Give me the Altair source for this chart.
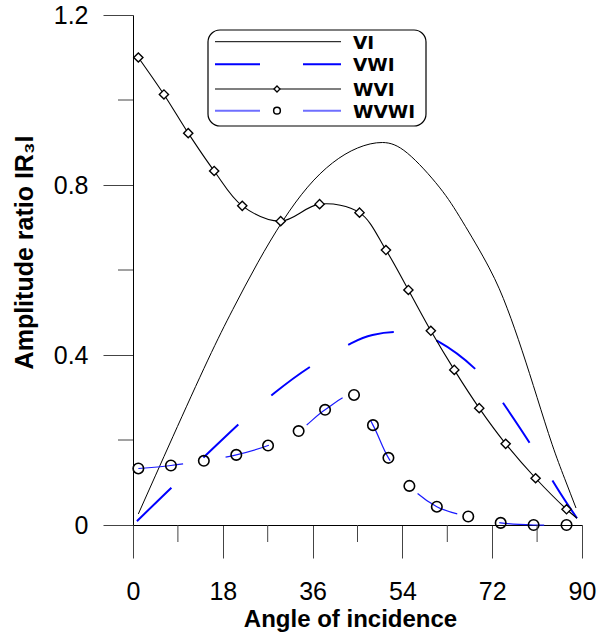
import altair as alt
import pandas as pd

series_names = ["VI", "VWI", "WVI", "WVWI"]

# VI: thin solid black curve
vi_angle = [1.07, 8.0, 15.0, 20.0, 25.0, 30.0, 35.0, 40.0, 45.0, 50.0, 55.0, 61.4, 66.0, 71.4, 75.0, 78.0, 81.0, 84.0, 86.5, 88.8]
vi_value = [0.026, 0.208, 0.388, 0.507, 0.617, 0.715, 0.795, 0.852, 0.887, 0.900, 0.875, 0.795, 0.715, 0.605, 0.510, 0.410, 0.300, 0.190, 0.110, 0.040]

# VWI: long-dashed blue curve
vwi_angle = [0.8, 7.8, 14.4, 21.6, 28.4, 36.0, 43.8, 48.0, 52.8, 57.0, 61.0, 68.8, 74.6, 80.0, 85.0, 89.0]
vwi_value = [0.009, 0.089, 0.162, 0.242, 0.311, 0.376, 0.428, 0.447, 0.454, 0.448, 0.433, 0.365, 0.280, 0.184, 0.087, 0.016]

# WVI: solid black curve with diamond markers
wvi_angle = [1.07, 6.2, 11.07, 16.27, 21.9, 29.6, 37.4, 45.4, 50.7, 55.2, 59.7, 64.4, 69.4, 74.7, 80.7, 86.9]
wvi_value = [1.100, 1.013, 0.922, 0.833, 0.751, 0.715, 0.755, 0.735, 0.647, 0.553, 0.457, 0.365, 0.275, 0.191, 0.110, 0.037]
wvi_tail_angle = [89.0]
wvi_tail_value = [0.016]

# WVWI: thin dashed blue curve with circle markers
wvwi_angle = [1.07, 7.6, 14.2, 20.7, 27.07, 33.2, 38.5, 44.3, 48.1, 51.2, 55.4, 60.9, 67.2, 73.7, 80.3, 86.9]
wvwi_value = [0.133, 0.140, 0.151, 0.165, 0.187, 0.221, 0.271, 0.306, 0.235, 0.158, 0.092, 0.043, 0.020, 0.005, 0.0, 0.0]

x_major = [0, 18, 36, 54, 72, 90]
x_minor = [9, 27, 45, 63, 81]
y_major = [0, 0.4, 0.8, 1.2]
y_minor = [0.2, 0.6, 1.0]

FONT = "Liberation Sans"

x_scale = alt.Scale(domain=[0, 90], nice=False, zero=False)
y_scale = alt.Scale(domain=[0, 1.2], nice=False, zero=False)

x_axis = alt.Axis(
    values=x_major, format="d", grid=False,
    tickSize=33, tickColor="#444", tickWidth=1,
    domainColor="#000", domainWidth=1,
    labelFont=FONT, labelFontSize=25, labelColor="#000", labelPadding=21,
    labelFlush=False, labelOverlap=False,
    title="Angle of incidence", titleFont=FONT, titleFontSize=24, titleFontWeight="bold",
    titleColor="#000", titleX=217, titleY=101, titleBaseline="alphabetic", titleAlign="center",
)
y_axis = alt.Axis(
    values=y_major, format=".1~f", grid=False,
    tickSize=30, tickColor="#444", tickWidth=1,
    domainColor="#000", domainWidth=1,
    labelFont=FONT, labelFontSize=25, labelColor="#000", labelPadding=15,
    labelFlush=False, labelOverlap=False,
    title="Amplitude ratio IR\u2083I", titleFont=FONT, titleFontSize=25, titleFontWeight="bold",
    titleColor="#000", titleAngle=270, titleX=-101, titleY=237,
    titleBaseline="alphabetic", titleAlign="center",
)

vi_df = pd.DataFrame({"angle": vi_angle, "value": vi_value})
vwi_df = pd.DataFrame({"angle": vwi_angle, "value": vwi_value})
wvi_pts = pd.DataFrame({"angle": wvi_angle, "value": wvi_value})
wvi_line_df = pd.DataFrame({"angle": wvi_angle + wvi_tail_angle, "value": wvi_value + wvi_tail_value})
wvwi_df = pd.DataFrame({"angle": wvwi_angle, "value": wvwi_value})

X = alt.X("angle:Q", scale=x_scale, axis=x_axis)
Y = alt.Y("value:Q", scale=y_scale, axis=y_axis)

vi_line = alt.Chart(vi_df).mark_line(
    color="#000", strokeWidth=1, interpolate="natural"
).encode(x=X, y=Y)

vwi_line = alt.Chart(vwi_df).mark_line(
    color="#0000FF", strokeWidth=2, strokeDash=[48, 44], interpolate="natural"
).encode(x=X, y=Y)

wvi_line = alt.Chart(wvi_line_df).mark_line(
    color="#000", strokeWidth=1.1, interpolate="catmull-rom"
).encode(x=X, y=Y)

wvwi_line = alt.Chart(wvwi_df).mark_line(
    color="#1a1aff", strokeWidth=1.2, strokeDash=[45, 43], interpolate="catmull-rom"
).encode(x=X, y=Y)

wvi_marks = alt.Chart(wvi_pts).mark_point(
    shape="diamond", size=85, fill="white", fillOpacity=1, stroke="#000", strokeWidth=1.4, opacity=1
).encode(x=X, y=Y)

wvwi_marks = alt.Chart(wvwi_df).mark_point(
    shape="circle", size=110, filled=False, stroke="#000", strokeWidth=1.6, opacity=1
).encode(x=X, y=Y)

# minor ticks (drawn through the shared scales)
x_minor_ticks = alt.Chart(pd.DataFrame({"angle": x_minor})).mark_rule(color="#444", strokeWidth=1).encode(
    x=X, y=alt.value(510), y2=alt.value(527)
)
y_minor_ticks = alt.Chart(pd.DataFrame({"value": y_minor})).mark_rule(color="#444", strokeWidth=1).encode(
    y=Y, x=alt.value(-15), x2=alt.value(0)
)

# legend
one = alt.Data(values=[{"k": 0}])
legend_layers = [
    alt.Chart(one).mark_rect(fill="white", stroke="#000", strokeWidth=1.2, cornerRadius=12).encode(
        x=alt.value(75), x2=alt.value(293), y=alt.value(15), y2=alt.value(111)
    )
]
row_y = [26.7, 49.3, 74, 95.7]
row_style = [
    dict(color="#000", strokeWidth=1),
    dict(color="#0000FF", strokeWidth=2, strokeDash=[45, 43]),
    dict(color="#000", strokeWidth=1.1),
    dict(color="#6f6fff", strokeWidth=2, strokeDash=[45, 43]),
]
for name, yy, st in zip(series_names, row_y, row_style):
    legend_layers.append(
        alt.Chart(one).mark_rule(**st).encode(x=alt.value(82), x2=alt.value(208), y=alt.value(yy))
    )
    legend_layers.append(
        alt.Chart(pd.DataFrame({"label": [name]})).mark_text(
            align="left", baseline="middle", font="DejaVu Sans", fontWeight="bold", fontSize=18.5, color="#000"
        ).encode(text="label:N", x=alt.value(220), y=alt.value(yy + 0.8))
    )
legend_layers.append(
    alt.Chart(one).mark_point(shape="diamond", size=36, fill="white", fillOpacity=1, stroke="#000", strokeWidth=1.3, opacity=1).encode(
        x=alt.value(144), y=alt.value(row_y[2])
    )
)
legend_layers.append(
    alt.Chart(one).mark_point(shape="circle", size=45, filled=False, stroke="#000", strokeWidth=1.5, opacity=1).encode(
        x=alt.value(144), y=alt.value(row_y[3])
    )
)

chart = alt.layer(
    vi_line, vwi_line, wvi_line, wvwi_line, wvi_marks, wvwi_marks,
    x_minor_ticks, y_minor_ticks, *legend_layers
).properties(
    width=449, height=510,
    autosize=alt.AutoSizeParams(type="none"),
    padding={"left": 133, "top": 15, "right": 15, "bottom": 114},
    background="white",
).configure_view(stroke=None)

chart.save("out.html", embed_options={"renderer": "svg", "actions": False})
